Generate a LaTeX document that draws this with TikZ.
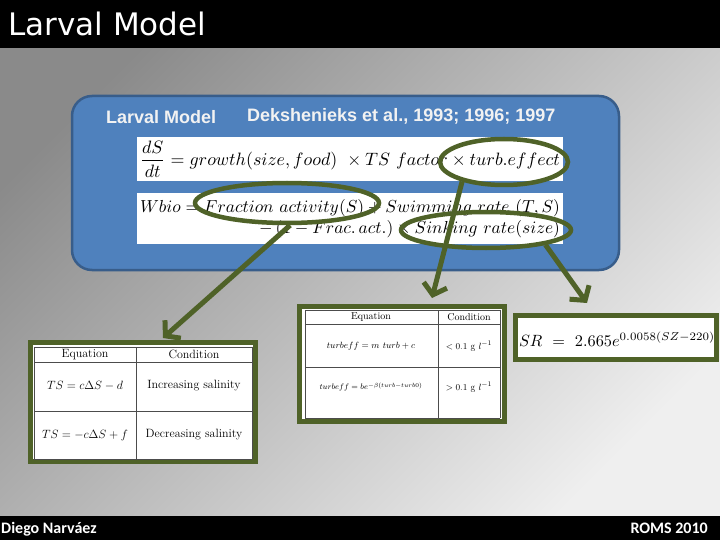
\documentclass[tikz,border=0pt]{standalone}
\usepackage{fontspec}
\usepackage{graphicx}
\usetikzlibrary{arrows.meta,shapes.geometric}
\newfontfamily\titlefont{DejaVu Sans}
\newfontfamily\arialfont{Liberation Sans}
\newfontfamily\califont{Carlito}
\definecolor{ogreen}{HTML}{4F6228}
\definecolor{bbfill}{HTML}{4F81BD}
\definecolor{bbline}{HTML}{385D8A}
\definecolor{bgdark}{HTML}{8A8A8A}
\definecolor{bglight}{HTML}{EFEFEF}
\begin{document}
\begin{tikzpicture}[x=1pt,y=-1pt,
  frame/.style={draw=ogreen, line width=5pt, fill=white, inner sep=0pt},
  ring/.style={draw=ogreen, line width=4.5pt, ellipse, inner sep=0pt},
  arr/.style={draw=ogreen, line width=5pt, -{Straight Barb[length=10pt,width=24pt]}},
  tabrule/.style={draw=black!70, line width=0.6pt},
  whitebox/.style={fill=white, inner sep=0pt},
  cell/.style={inner sep=0pt},
  foot/.style={text=white, font=\califont\bfseries\fontsize{16}{19}\selectfont, inner sep=0pt},
]
\useasboundingbox (0,0) rectangle (720,540);
\shade[top color=bgdark, bottom color=bglight, shading angle=45] (0,0) rectangle (720,540);
\fill[black] (0,0) rectangle (720,48);
\fill[black] (0,516) rectangle (720,540);
\node[anchor=base west, text=white, font=\titlefont\fontsize{31}{36}\selectfont, inner sep=0pt] (title) at (8,36) {Larval Model};
\node[anchor=base west, foot] (author) at (1,533) {Diego Narváez};
\node[anchor=base east, foot] (event) at (708,533) {ROMS 2010};

% blue panel
\node[rectangle, rounded corners=20pt, fill=bbfill, draw=bbline, line width=2.5pt,
      minimum width=547pt, minimum height=174pt, inner sep=0pt] (panel) at (345.5,183) {};
\node[anchor=base west, text=white!95!black, font=\arialfont\bfseries\fontsize{18}{21}\selectfont, inner sep=0pt] (hdr) at (106,124) {Larval Model};
\node[anchor=base west, text=white!95!black, font=\arialfont\bfseries\fontsize{18}{21}\selectfont, inner sep=0pt] (ref) at (247,122) {Dekshenieks et al., 1993; 1996; 1997};

% formula boxes
\node[whitebox, minimum width=426pt, minimum height=44pt] (f1) at (350,159) {};
\node[cell] (f1t) at (f1) {\resizebox{420pt}{!}{$\displaystyle\frac{dS}{dt} = growth(size,food)\ \times TS\ factor \times turb.effect$}};
\node[whitebox, minimum width=426pt, minimum height=51pt] (f2) at (350,218.5) {};
\node[cell] (f2t) at (f2) {\resizebox{420pt}{!}{$\begin{array}{@{}r@{}} Wbio = Fraction\ activity(S) + Swimming\ rate\ (T,S)\\ -\,(1 - Frac.\,act.) \times Sinking\ rate(size)\end{array}$}};

% ellipses
\node[ring, minimum width=184pt, minimum height=40pt] (e1) at (287,203) {};
\node[ring, minimum width=128pt, minimum height=46pt] (e2) at (504,162) {};
\node[ring, minimum width=170pt, minimum height=36pt] (e3) at (486,230) {};

% table 1
\node[frame, minimum width=225pt, minimum height=119pt] (tab1) at (143,402) {};
\draw[tabrule] (34,347) -- (252,347) (34,362) -- (252,362) (34,411) -- (252,411) (34,459) -- (252,459)
  (34,347) -- (34,459) (136,347) -- (136,459) (252,347) -- (252,459);
\node[cell, font=\fontsize{12}{14}\selectfont] (t1h1) at (85,354.5) {Equation};
\node[cell, font=\fontsize{12}{14}\selectfont] (t1h2) at (194,354.5) {Condition};
\node[cell, font=\fontsize{12}{14}\selectfont] (t1a) at (85,386) {$TS = c\Delta S - d$};
\node[cell, font=\fontsize{12}{14}\selectfont] (t1b) at (194,386) {Increasing salinity};
\node[cell, font=\fontsize{12}{14}\selectfont] (t1c) at (85,435) {$TS = -c\Delta S + f$};
\node[cell, font=\fontsize{12}{14}\selectfont] (t1d) at (194,435) {Decreasing salinity};

% table 2
\node[frame, minimum width=205pt, minimum height=115pt] (tab2) at (402,364) {};
\draw[tabrule] (305,310) -- (500,310) (305,324) -- (500,324) (305,367) -- (500,367) (305,418) -- (500,418)
  (305,310) -- (305,418) (438,310) -- (438,418) (500,310) -- (500,418);
\node[cell, font=\fontsize{10}{12}\selectfont] (t2h1) at (371,317) {Equation};
\node[cell, font=\fontsize{10}{12}\selectfont] (t2h2) at (469,317) {Condition};
\node[cell, font=\fontsize{9.5}{11}\selectfont] (t2a) at (371,346) {$turbeff = m\ turb + c$};
\node[cell, font=\fontsize{9.5}{11}\selectfont] (t2b) at (469,346) {$<0.1$ g $l^{-1}$};
\node[cell, font=\fontsize{8.5}{10}\selectfont] (t2c) at (371,387) {$turbeff = be^{-\beta(turb-turb0)}$};
\node[cell, font=\fontsize{9.5}{11}\selectfont] (t2d) at (469,387) {$>0.1$ g $l^{-1}$};

% SR box
\node[frame, minimum width=201pt, minimum height=44pt] (srbox) at (616,337.5) {};
\node[cell] (srt) at (617,339) {\resizebox{196pt}{!}{$SR\ =\ 2.665e^{0.0058(SZ-220)}$}};

% arrows
\coordinate (tip1) at (163,338);
\coordinate (tip2) at (432,298);
\coordinate (tip3) at (587,303);
\draw[arr] (e1.-82) -- (tip1);
\draw[arr] (e2.205) -- (tip2);
\draw[arr] (e3.-14) -- (tip3);
\end{tikzpicture}
\end{document}
